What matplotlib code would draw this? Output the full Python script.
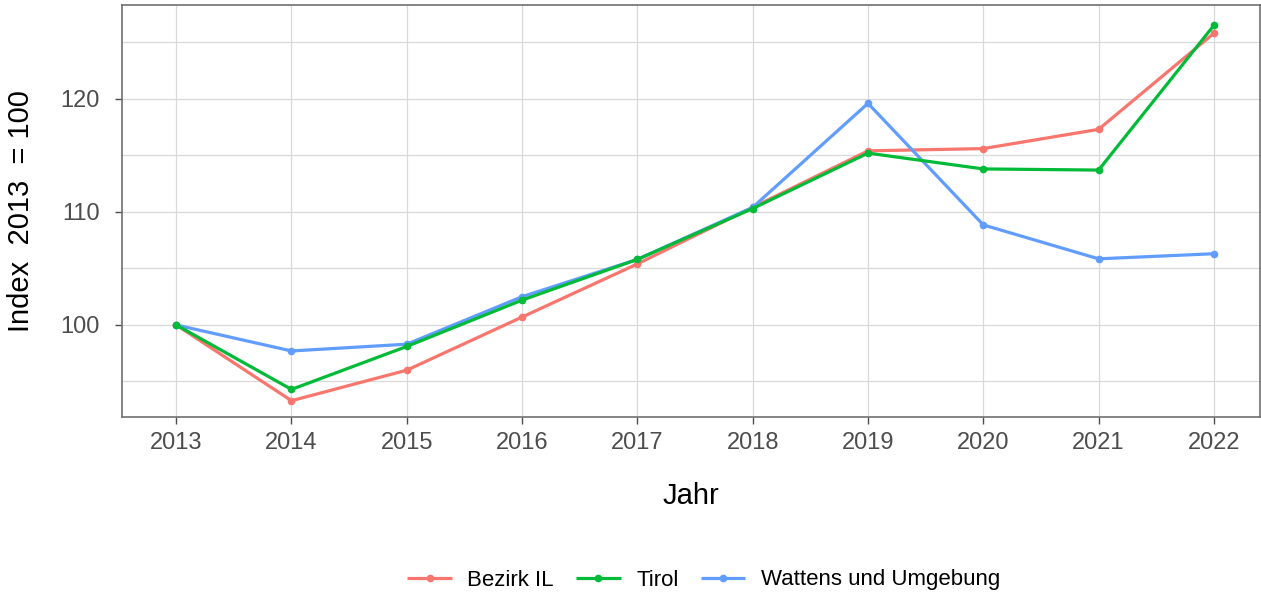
import matplotlib
matplotlib.use("Agg")
import matplotlib.pyplot as plt
from matplotlib.ticker import MultipleLocator

plt.rcParams['font.family'] = ['Liberation Sans', 'DejaVu Sans']

years = [2013, 2014, 2015, 2016, 2017, 2018, 2019, 2020, 2021, 2022]
bezirk_il = [100.0, 93.3, 96.0, 100.7, 105.4, 110.4, 115.4, 115.6, 117.3, 125.8]
tirol = [100.0, 94.3, 98.1, 102.2, 105.8, 110.3, 115.2, 113.8, 113.7, 126.5]
wattens = [100.0, 97.7, 98.3, 102.5, 105.8, 110.4, 119.6, 108.85, 105.85, 106.3]

series_names = ["Bezirk IL", "Tirol", "Wattens und Umgebung"]
colors = ["#F8766D", "#00BA38", "#619CFF"]

fig = plt.figure(figsize=(12.61, 5.96), dpi=100)
ax = fig.add_axes([122/1261, 1 - 417/596, (1260-122)/1261, (417-5)/596])

lines = {}
for name, vals, col, z in [(series_names[0], bezirk_il, colors[0], 3),
                           (series_names[2], wattens, colors[2], 4),
                           (series_names[1], tirol, colors[1], 5)]:
    l, = ax.plot(years, vals, color=col, lw=2.3, marker='o', ms=4.5, zorder=z,
                 solid_capstyle='butt', label=name)
    lines[name] = l

ax.set_xlim(2012.53, 2022.4)
ax.set_ylim(91.86, 128.3)
ax.set_xticks(years)
ax.yaxis.set_major_locator(MultipleLocator(10))
ax.yaxis.set_minor_locator(MultipleLocator(5))
ax.grid(True, which='major', color='#d9d9d9', lw=0.9)
ax.grid(True, which='minor', axis='y', color='#d9d9d9', lw=0.9)
ax.set_axisbelow(True)
for s in ax.spines.values():
    s.set_color('#707070')
    s.set_linewidth(1.2)
ax.tick_params(axis='both', which='major', labelsize=17, colors='#4d4d4d',
               length=5, width=1, labelcolor='#4d4d4d')
ax.tick_params(axis='x', which='major', pad=6)
ax.tick_params(axis='y', which='major', pad=11)
ax.tick_params(axis='y', which='minor', length=0)

ax.set_xlabel("Jahr", fontsize=21, labelpad=20, color='black')
ax.set_ylabel("Index  2013  = 100", fontsize=21, labelpad=18, color='black')

handles = [lines[n] for n in series_names]
fig.legend(handles, series_names, loc='center', bbox_to_anchor=(0.558, 1 - 580/596),
           ncol=3, frameon=False, fontsize=16, handlelength=2.0,
           columnspacing=1.0, handletextpad=0.7)

fig.savefig("out.png", dpi=100)
